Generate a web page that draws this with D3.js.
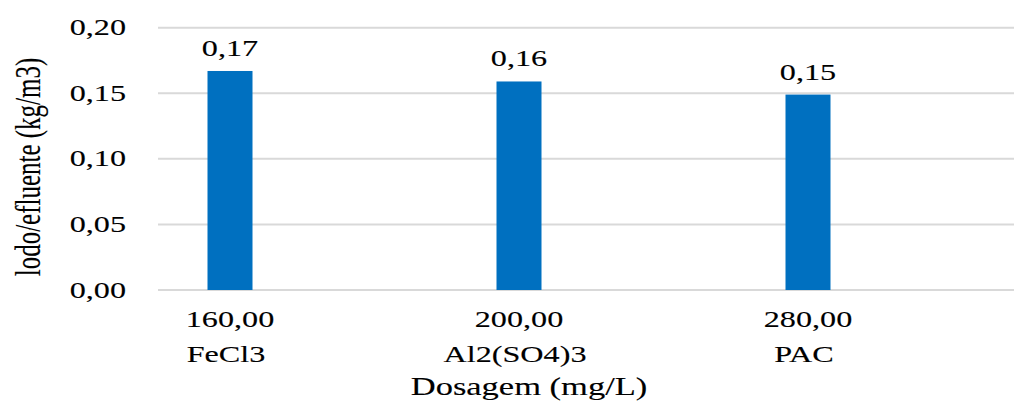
<!DOCTYPE html>
<html>
<head>
<meta charset="utf-8">
<script src="https://cdn.jsdelivr.net/npm/d3@7"></script>
<style>
  html, body { margin: 0; padding: 0; background: #fff; }
  svg { display: block; }
</style>
</head>
<body>
<script>
// Sludge per effluent volume for each coagulant dose
const dosages = ["160,00", "200,00", "280,00"];
const coagulants = ["FeCl3", "Al2(SO4)3", "PAC"];
const sludge = [0.167, 0.159, 0.149];
const yTicks = [0, 0.05, 0.10, 0.15, 0.20];

const W = 1014, H = 402;
const plot = { left: 158, right: 1014, top: 27.7, bottom: 290 };
const sx = 1.4;                // wide letterforms used throughout
const fs = 23;
const fmt = v => d3.format(".2f")(v).replace(".", ",");

const svg = d3.select("body").append("svg")
  .attr("width", W).attr("height", H)
  .attr("font-family", "'Liberation Serif', 'Times New Roman', serif")
  .attr("fill", "#000");

const x = d3.scalePoint()
  .domain(dosages)
  .range([230, 808]);

const y = d3.scaleLinear()
  .domain([0, 0.20])
  .range([plot.bottom, plot.top]);

const barW = 45;

// horizontal gridlines
svg.append("g")
  .selectAll("line")
  .data(yTicks)
  .join("line")
  .attr("x1", plot.left).attr("x2", plot.right)
  .attr("y1", d => y(d)).attr("y2", d => y(d))
  .attr("stroke", "#d9d9d9")
  .attr("stroke-width", 2);

const labels = svg.append("g")
  .attr("stroke", "#000")
  .attr("stroke-width", 0.12);

// y tick labels
labels.append("g")
  .selectAll("text")
  .data(yTicks)
  .join("text")
  .attr("transform", d => `translate(126,${y(d) + 7.5}) scale(${sx},1)`)
  .attr("text-anchor", "end")
  .attr("font-size", fs)
  .text(d => fmt(d));

// bars
svg.append("g")
  .selectAll("rect")
  .data(sludge)
  .join("rect")
  .attr("x", (d, i) => x(dosages[i]) - barW / 2)
  .attr("width", barW)
  .attr("y", d => y(d))
  .attr("height", d => y(0) - y(d))
  .attr("fill", "#0070c0");

// value labels
labels.append("g")
  .selectAll("text")
  .data(sludge)
  .join("text")
  .attr("transform", (d, i) => `translate(${x(dosages[i])},${y(d) - 15}) scale(${sx},1)`)
  .attr("text-anchor", "middle")
  .attr("font-size", fs)
  .text(d => fmt(d));

// category labels: dose on first line, coagulant below
const cat = labels.append("g")
  .selectAll("g")
  .data(dosages)
  .join("g");

cat.append("text")
  .attr("transform", d => `translate(${x(d)},327) scale(${sx},1)`)
  .attr("text-anchor", "middle")
  .attr("font-size", fs)
  .text(d => d);

cat.append("text")
  .attr("transform", (d, i) => `translate(${x(d) - 4},362) scale(${sx},1)`)
  .attr("text-anchor", "middle")
  .attr("font-size", fs)
  .text((d, i) => coagulants[i]);

// axis titles
labels.append("text")
  .attr("transform", `translate(529,395) scale(1.38,1)`)
  .attr("text-anchor", "middle")
  .attr("font-size", 25)
  .text("Dosagem (mg/L)");

labels.append("text")
  .attr("transform", `translate(40,167) scale(1.46,1) rotate(-90)`)
  .attr("text-anchor", "middle")
  .attr("font-size", 25)
  .text("lodo/efluente (kg/m3)");
</script>
</body>
</html>
